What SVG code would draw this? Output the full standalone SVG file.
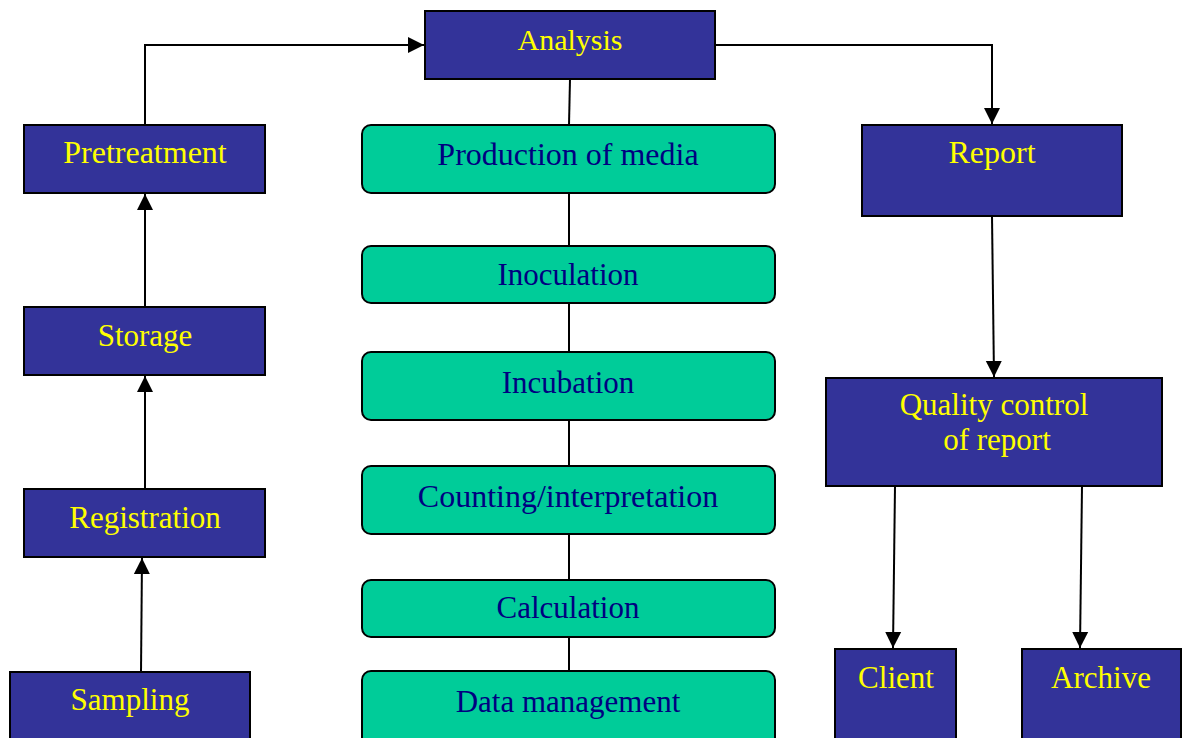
<svg xmlns="http://www.w3.org/2000/svg" width="1188" height="738" viewBox="0 0 1188 738">
<style>
.b{fill:#333399;stroke:#000;stroke-width:2}
.g{fill:#00CC99;stroke:#000;stroke-width:2}
.ty{font-family:"Liberation Serif","Times New Roman",serif;font-size:31px;fill:#FFFF00;text-anchor:middle}
.tn{font-family:"Liberation Serif","Times New Roman",serif;font-size:31px;fill:#000080;text-anchor:middle}
.l{font-size:32px}
.c{fill:none;stroke:#000;stroke-width:2}
</style>
<defs>
<marker id="ah" markerWidth="18" markerHeight="18" viewBox="0 0 18 18" refX="16" refY="9" orient="auto" markerUnits="userSpaceOnUse">
<path d="M0,1 L16,9 L0,17 Z" fill="#000"/>
</marker>
</defs>
<rect width="1188" height="738" fill="#fff"/>
<g id="connectors">
<polyline class="c" points="145,125 145,45 424,45" marker-end="url(#ah)"/>
<polyline class="c" points="715,45 992,45 992,124" marker-end="url(#ah)"/>
<line class="c" x1="570" y1="79" x2="569" y2="125"/>
<line class="c" x1="569" y1="193" x2="569" y2="246"/>
<line class="c" x1="569" y1="303" x2="569" y2="352"/>
<line class="c" x1="569" y1="420" x2="569" y2="466"/>
<line class="c" x1="569" y1="534" x2="569" y2="580"/>
<line class="c" x1="569" y1="637" x2="569" y2="671"/>
<line class="c" x1="145" y1="307" x2="145" y2="194" marker-end="url(#ah)"/>
<line class="c" x1="145" y1="489" x2="145" y2="376" marker-end="url(#ah)"/>
<line class="c" x1="141" y1="672" x2="142" y2="558" marker-end="url(#ah)"/>
<line class="c" x1="992" y1="216" x2="994" y2="377" marker-end="url(#ah)"/>
<line class="c" x1="895" y1="486" x2="893" y2="648" marker-end="url(#ah)"/>
<line class="c" x1="1082" y1="486" x2="1080" y2="648" marker-end="url(#ah)"/>
</g>
<g id="analysis"><rect class="b" x="425" y="11" width="290" height="68"/><text class="ty" x="570" y="50" style="font-size:30px">Analysis</text></g>
<g id="pretreatment"><rect class="b" x="24" y="125" width="241" height="68"/><text class="ty l" x="145" y="163">Pretreatment</text></g>
<g id="storage"><rect class="b" x="24" y="307" width="241" height="68"/><text class="ty" x="145" y="346">Storage</text></g>
<g id="registration"><rect class="b" x="24" y="489" width="241" height="68"/><text class="ty" x="145" y="528">Registration</text></g>
<g id="sampling"><rect class="b" x="10" y="672" width="240" height="80"/><text class="ty" x="130" y="710">Sampling</text></g>
<g id="production"><rect class="g" x="362" y="125" width="413" height="68" rx="9"/><text class="tn l" x="568" y="165">Production of media</text></g>
<g id="inoculation"><rect class="g" x="362" y="246" width="413" height="57" rx="9"/><text class="tn" x="568" y="285">Inoculation</text></g>
<g id="incubation"><rect class="g" x="362" y="352" width="413" height="68" rx="9"/><text class="tn" x="568" y="393">Incubation</text></g>
<g id="counting"><rect class="g" x="362" y="466" width="413" height="68" rx="9"/><text class="tn l" x="568" y="507">Counting/interpretation</text></g>
<g id="calculation"><rect class="g" x="362" y="580" width="413" height="57" rx="9"/><text class="tn" x="568" y="618">Calculation</text></g>
<g id="datamanagement"><rect class="g" x="362" y="671" width="413" height="80" rx="9"/><text class="tn" x="568" y="712">Data management</text></g>
<g id="report"><rect class="b" x="862" y="125" width="260" height="91"/><text class="ty l" x="992" y="163">Report</text></g>
<g id="quality"><rect class="b" x="826" y="378" width="336" height="108"/><text class="ty" x="994" y="415">Quality control</text><text class="ty" x="997" y="450">of report</text></g>
<g id="client"><rect class="b" x="835" y="649" width="121" height="100"/><text class="ty" x="896" y="688">Client</text></g>
<g id="archive"><rect class="b" x="1022" y="649" width="159" height="100"/><text class="ty" x="1101" y="688">Archive</text></g>
</svg>
